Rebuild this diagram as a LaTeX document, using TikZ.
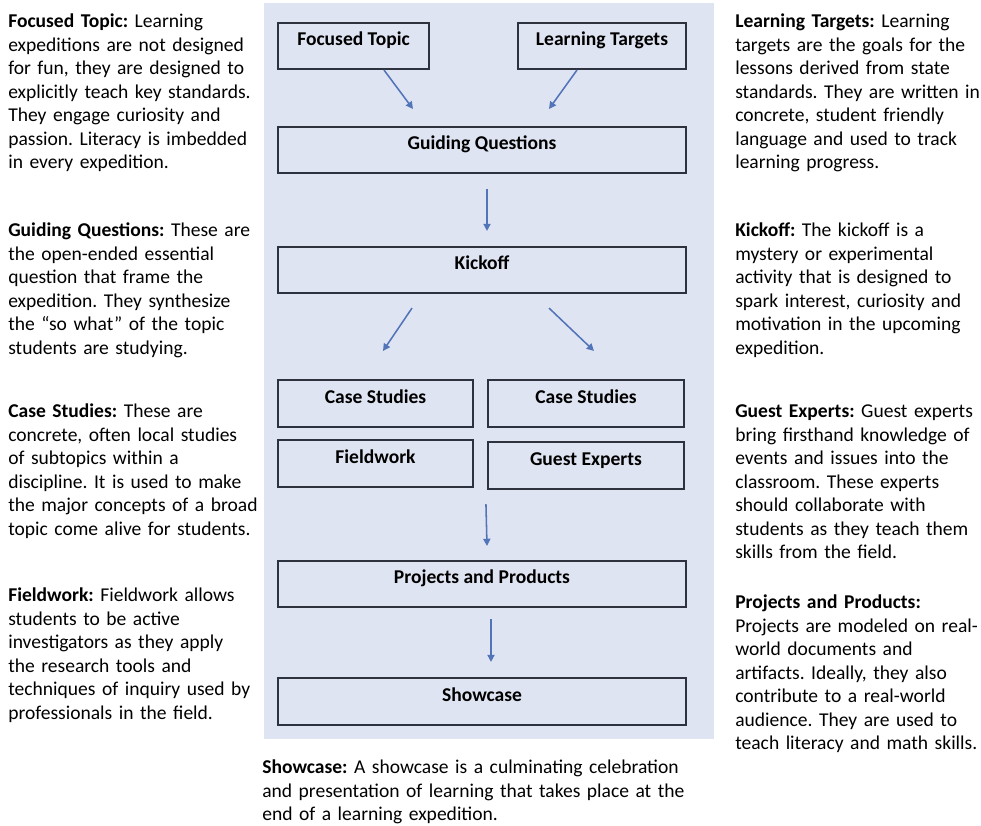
\documentclass[tikz,border=0pt]{standalone}
\usepackage{fontspec}
\setmainfont{Carlito}
\usetikzlibrary{arrows.meta}
\usetikzlibrary{positioning}
\frenchspacing

\definecolor{panelblue}{RGB}{223,228,242}
\definecolor{boxline}{RGB}{45,50,62}
\definecolor{flowblue}{RGB}{82,116,184}

\newcommand{\diagfont}{\fontsize{13.9pt}{16.7pt}\selectfont}

\tikzset{
  stagebox/.style={rectangle, draw=boxline, line width=1.5pt, font=\diagfont\bfseries,
    text height=1.5ex, text depth=1.6ex, inner sep=0pt},
  note/.style={anchor=north west, inner sep=0pt, align=left, text width=#1, font=\diagfont},
  note/.default=300,
  flow/.style={draw=flowblue, line width=1.1pt, -{Triangle[length=0.18cm, width=0.18cm]}}
}

\begin{document}
\begin{tikzpicture}[x=0.025cm, y=-0.025cm]
    \useasboundingbox (0,0) rectangle (981,825);

    % Background panel
    \fill [panelblue] (264,3) rectangle (714,739);

    % Stages
    \node [stagebox, minimum width=151*0.025cm, minimum height=46*0.025cm] (topic) at (353.5,46) {Focused Topic};
    \node [stagebox, minimum width=168*0.025cm, minimum height=46*0.025cm] (targets) at (602,46) {Learning Targets};
    \node [stagebox, minimum width=408*0.025cm, minimum height=46*0.025cm] (questions) at (482,150) {Guiding Questions};
    \node [stagebox, minimum width=408*0.025cm, minimum height=46*0.025cm] (kickoff) at (482,270) {Kickoff};
    \node [stagebox, minimum width=195*0.025cm, minimum height=47*0.025cm] (cases) at (375.5,403.5) {Case Studies};
    \node [stagebox, minimum width=196*0.025cm, minimum height=47*0.025cm] (casesb) at (586,403.5) {Case Studies};
    \node [stagebox, minimum width=195*0.025cm, minimum height=47*0.025cm] (fieldwork) at (375.5,463.5) {Fieldwork};
    \node [stagebox, minimum width=196*0.025cm, minimum height=47*0.025cm] (experts) at (586,465.5) {Guest Experts};
    \node [stagebox, minimum width=408*0.025cm, minimum height=46*0.025cm] (projects) at (482,584) {Projects and Products};
    \node [stagebox, minimum width=408*0.025cm, minimum height=47*0.025cm] (showcase) at (482,701.5) {Showcase};

    % Arrows
    \draw [flow] ([shift={(30.5,0)}]topic.south) -- ([shift={(-69,-17)}]questions.north);
    \draw [flow] ([shift={(-25,0)}]targets.south) -- ([shift={(67,-17)}]questions.north);
    \draw [flow] ([shift={(5,15)}]questions.south) -- ([shift={(5,-15)}]kickoff.north);
    \draw [flow] ([shift={(-70,14)}]kickoff.south) -- ([shift={(7.5,-28)}]cases.north);
    \draw [flow] ([shift={(67,14)}]kickoff.south) -- ([shift={(8,-28)}]casesb.north);
    \draw [flow] ([shift={(-1,14)}]experts.south west) -- ([shift={(5,-14)}]projects.north);
    \draw [flow] ([shift={(9,11)}]projects.south) -- ([shift={(9,-15)}]showcase.north);

    % Left descriptions
    \node [note] (topictxt) at (8,11) {\strut\textbf{Focused Topic:} Learning\\expeditions are not designed\\for fun, they are designed to\\explicitly teach key standards.\\They engage curiosity and\\passion. Literacy is imbedded\\in every expedition.};
    \node [note] (questionstxt) at (8,220) {\strut\textbf{Guiding Questions:} These are\\the open-ended essential\\question that frame the\\expedition. They synthesize\\the “so what” of the topic\\students are studying.};
    \node [note] (casestxt) at (8,401) {\strut\textbf{Case Studies:} These are\\concrete, often local studies\\of subtopics within a\\discipline. It is used to make\\the major concepts of a broad\\topic come alive for students.};
    \node [note] (fieldworktxt) at (8,585) {\strut\textbf{Fieldwork:} Fieldwork allows\\students to be active\\investigators as they apply\\the research tools and\\techniques of inquiry used by\\professionals in the field.};

    % Right descriptions
    \node [note=240] (targetstxt) at (735,11) {\strut\textbf{Learning Targets:} Learning\\targets are the goals for the\\lessons derived from state\\standards. They are written in\\concrete, student friendly\\language and used to track\\learning progress.};
    \node [note=240] (kickofftxt) at (735,220) {\strut\textbf{Kickoff:} The kickoff is a\\mystery or experimental\\activity that is designed to\\spark interest, curiosity and\\motivation in the upcoming\\expedition.};
    \node [note=240] (expertstxt) at (735,401) {\strut\textbf{Guest Experts:} Guest experts\\bring firsthand knowledge of\\events and issues into the\\classroom. These experts\\should collaborate with\\students as they teach them\\skills from the field.};
    \node [note=240] (projectstxt) at (735,592) {\strut\textbf{Projects and Products:}\\Projects are modeled on real-\\world documents and\\artifacts. Ideally, they also\\contribute to a real-world\\audience. They are used to\\teach literacy and math skills.};

    % Bottom description
    \node [note=500] (showcasetxt) at (262,757) {\strut\textbf{Showcase:} A showcase is a culminating celebration\\and presentation of learning that takes place at the\\end of a learning expedition.};

\end{tikzpicture}
\end{document}
